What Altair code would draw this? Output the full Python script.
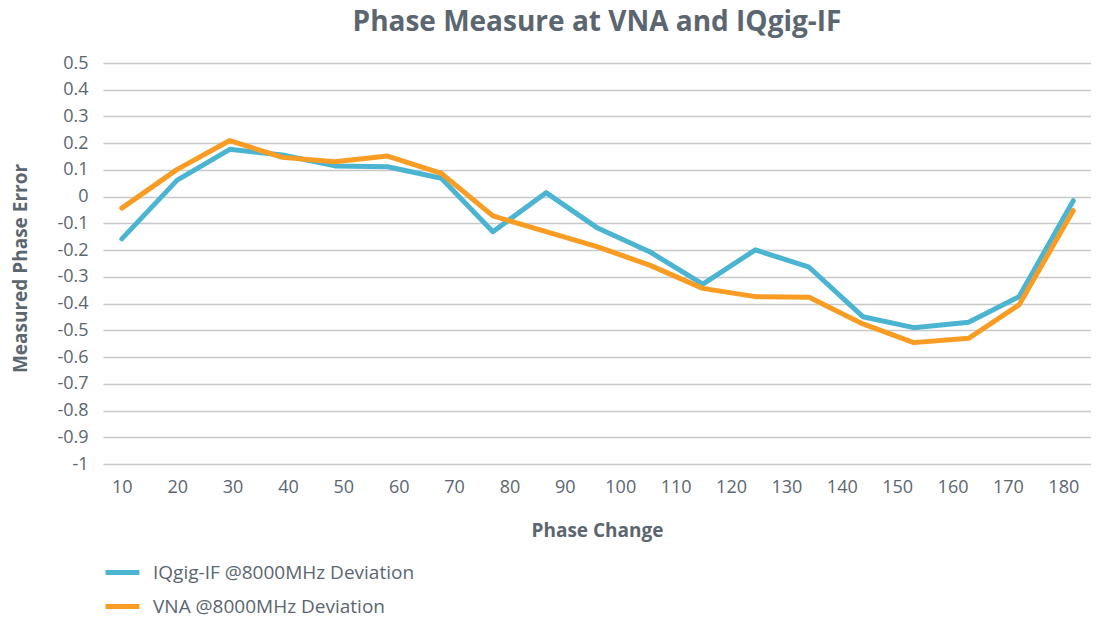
import altair as alt
import pandas as pd

phase = [10, 20, 29.5, 39, 48.5, 58, 67.7, 77, 86.6, 95.8, 105.3, 114.9, 124.4, 134.1, 143.8, 153, 162.9, 172, 181.8]
iqgig = [-0.158, 0.062, 0.177, 0.156, 0.115, 0.112, 0.069, -0.131, 0.015, -0.116, -0.206, -0.327, -0.199, -0.264, -0.449, -0.49, -0.47, -0.374, -0.015]
vna = [-0.043, 0.102, 0.21, 0.147, 0.131, 0.152, 0.087, -0.072, -0.131, -0.187, -0.256, -0.343, -0.374, -0.376, -0.476, -0.546, -0.530, -0.405, -0.052]
series_names = ["IQgig-IF @8000MHz Deviation", "VNA @8000MHz Deviation"]
colors = ["#4BB5D1", "#F99C24"]
x_ticks = list(range(10, 190, 10))
y_ticks = [round(-1 + 0.1 * i, 1) for i in range(16)]

rows = []
for p, a, b in zip(phase, iqgig, vna):
    rows.append({"Phase": p, "Value": a, "Series": series_names[0]})
    rows.append({"Phase": p, "Value": b, "Series": series_names[1]})
df = pd.DataFrame(rows)

FONT = "Open Sans"
GREY = "#5B6670"

chart = alt.Chart(df).mark_line(strokeWidth=5, strokeCap="round", strokeJoin="round", clip=False).encode(
    x=alt.X("Phase:Q",
            scale=alt.Scale(domain=[6.6, 185], nice=False, zero=False),
            axis=alt.Axis(values=x_ticks, title="Phase Change", grid=False, domain=False, ticks=False,
                          labelPadding=14, labelFontSize=18, labelColor=GREY, labelFont=FONT,
                          titleFont=FONT, titleFontSize=19, titleFontWeight="bold", titleColor=GREY,
                          titleY=66, titleBaseline="middle", labelFlush=False)),
    y=alt.Y("Value:Q",
            scale=alt.Scale(domain=[-1, 0.5], nice=False),
            axis=alt.Axis(values=y_ticks, title="Measured Phase Error", grid=True, gridColor="#C8C8C8",
                          gridWidth=1.5, domain=False, ticks=False, labelPadding=15,
                          labelFontSize=18, labelColor=GREY, labelFont=FONT,
                          labelExpr="toString(round(datum.value * 10) / 10)",
                          titleFont=FONT, titleFontSize=19, titleFontWeight="bold", titleColor=GREY,
                          titleX=-83, titleY=205, titleAngle=-90, titleBaseline="middle", titleAlign="center")),
    color=alt.Color("Series:N",
                    scale=alt.Scale(domain=series_names, range=colors),
                    legend=alt.Legend(title=None, orient="none", legendX=0, legendY=490, direction="vertical",
                                      symbolType="stroke", symbolStrokeWidth=5, symbolSize=1150,
                                      labelFont=FONT, labelFontSize=19, labelColor=GREY, labelLimit=0,
                                      rowPadding=4, labelOffset=11, padding=0)),
    detail="Series:N",
).properties(
    width=988,
    height=401,
    title=alt.TitleParams("Phase Measure at VNA and IQgig-IF", font=FONT, fontSize=28, fontWeight="bold",
                          color=GREY, anchor="middle", offset=17),
    autosize=alt.AutoSizeParams(type="none"),
    padding={"left": 95, "top": 55, "right": 0, "bottom": 153},
).configure_view(stroke=None)

chart.save("out.html", embed_options={"renderer": "svg", "actions": False})
